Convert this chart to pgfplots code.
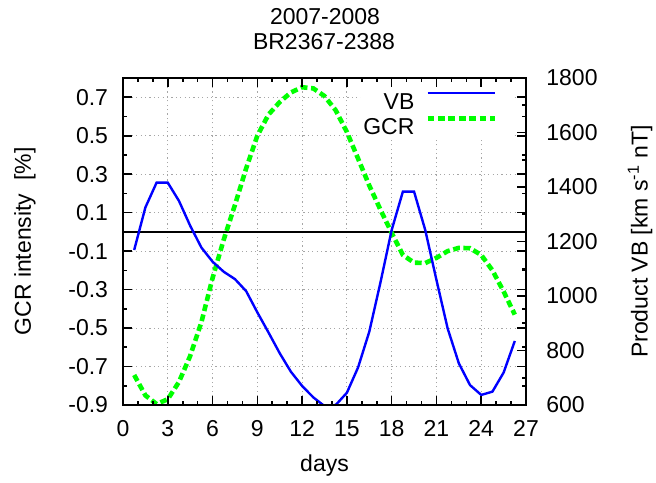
\documentclass[border=0pt]{standalone}
\usepackage{pgfplots}
\usepackage{pgfplotstable}
\pgfplotsset{compat=1.18}
\usepackage{fontspec}
\setmainfont{Liberation Sans}

\pgfplotstableread{
day   vb    gcr
0.75  1169  -0.744
1.50  1325  -0.850
2.25  1416  -0.895
3.00  1416  -0.870
3.75  1349  -0.780
4.50  1258  -0.645
5.25  1178  -0.470
6.00  1126  -0.240
6.75  1089  -0.040
7.50  1062   0.140
8.25  1018   0.330
9.00   940   0.500
9.75   866   0.610
10.50  790   0.675
11.25  722   0.725
12.00  670   0.752
12.75  628   0.746
13.50  596   0.706
14.25  600   0.632
15.00  645   0.519
15.75  738   0.381
16.50  869   0.241
17.25 1050   0.115
18.00 1242  -0.005
18.75 1383  -0.120
19.50 1383  -0.160
20.25 1242  -0.162
21.00 1059  -0.135
21.75  881  -0.100
22.50  753  -0.083
23.25  673  -0.085
24.00  637  -0.120
24.75  649  -0.200
25.50  719  -0.310
26.25  835  -0.430
}\datatable

\definecolor{vbblue}{RGB}{0,0,255}
\definecolor{gcrgreen}{RGB}{0,255,0}

\pgfplotsset{
  common/.style={
    scale only axis, width=201.5pt, height=163.5pt,
    at={(0pt,0pt)}, anchor=south west,
    xmin=0, xmax=27,
    xtick={0,3,6,9,12,15,18,21,24,27},
    minor xtick={1,2,4,5,7,8,10,11,13,14,16,17,19,20,22,23,25,26},
    tick align=inside,
    major tick length=4.5pt, minor tick length=2.2pt,
    every tick/.style={black, line width=0.8pt},
    axis line style={black, line width=1pt},
    xtick pos=both,
  },
}

\begin{document}
\fontsize{11.5}{13.5}\selectfont
\begin{tikzpicture}
\useasboundingbox (-61.5pt,-38.5pt) rectangle (266.5pt,202.5pt);

\begin{axis}[
  common,
  ymin=-0.9, ymax=0.8,
  ytick={-0.9,-0.7,-0.5,-0.3,-0.1,0.1,0.3,0.5,0.7},
  minor ytick={-0.8,-0.6,-0.4,-0.2,0,0.2,0.4,0.6},
  ytick pos=both, yticklabel pos=left,
  xticklabel pos=bottom,
  grid=major,
  major grid style={gray!70, line width=0.5pt, dash pattern=on 0.6pt off 1.6pt},
  xticklabel style={/pgf/number format/assume math mode=true, anchor=north, inner sep=0pt, yshift=-7.5pt},
  yticklabel style={/pgf/number format/.cd, fixed, fixed zerofill, precision=1, assume math mode=true, /tikz/.cd, anchor=east, inner sep=0pt, xshift=-7.3pt},
  xlabel={days},
  xlabel style={at={(axis description cs:0.5,0)}, anchor=base, yshift=-33pt},
  ylabel={GCR intensity\ \ [\%]},
  ylabel style={at={(axis description cs:-0.2432,0.5)}, anchor=center, rotate=0},
]
\addplot[black, line width=0.8pt, forget plot] coordinates {(0,0) (27,0)};
\addplot[gcrgreen, line width=2.3pt, dash pattern=on 3.4pt off 1.8pt] table[x=day, y=gcr]{\datatable};
\end{axis}

\begin{axis}[
  common,
  axis on top,
  ymin=600, ymax=1800,
  ytick={600,800,1000,1200,1400,1600,1800},
  minor ytick={700,900,1100,1300,1500,1700},
  ytick pos=right, yticklabel pos=right,
  xticklabels={},
  yticklabel style={/pgf/number format/.cd, 1000 sep={}, assume math mode=true, /tikz/.cd, anchor=west, inner sep=0pt, xshift=10pt},
  ylabel={Product VB [km s\textsuperscript{-1} nT]},
  ylabel style={at={(axis description cs:1.2829,0.5)}, anchor=center, rotate=0},
  legend cell align=right,
  legend plot pos=right,
  legend image code/.code={\draw[#1] (0pt,4.1pt) -- (33.5pt,4.1pt);},
  legend style={at={(0.928,0.958)}, anchor=north east, draw=none, fill=none,
    inner sep=0pt, outer sep=0pt, row sep=3.45pt, column sep=5.5pt,
    nodes={inner sep=0pt, text height=8.2pt, text depth=0pt}},
]
\fill[white] (rel axis cs:0.5906,0.8196) rectangle (rel axis cs:0.965,0.996);
\addplot[vbblue, line width=1.2pt] table[x=day, y=vb]{\datatable};
\addlegendentry{VB}
\addlegendimage{gcrgreen, line width=2.3pt, dash pattern=on 3.4pt off 1.8pt}
\addlegendentry{GCR}
\end{axis}

\node[anchor=base] at (101pt,190pt) {2007-2008};
\node[anchor=base] at (100.5pt,177.5pt) {BR2367-2388};
\end{tikzpicture}
\end{document}
